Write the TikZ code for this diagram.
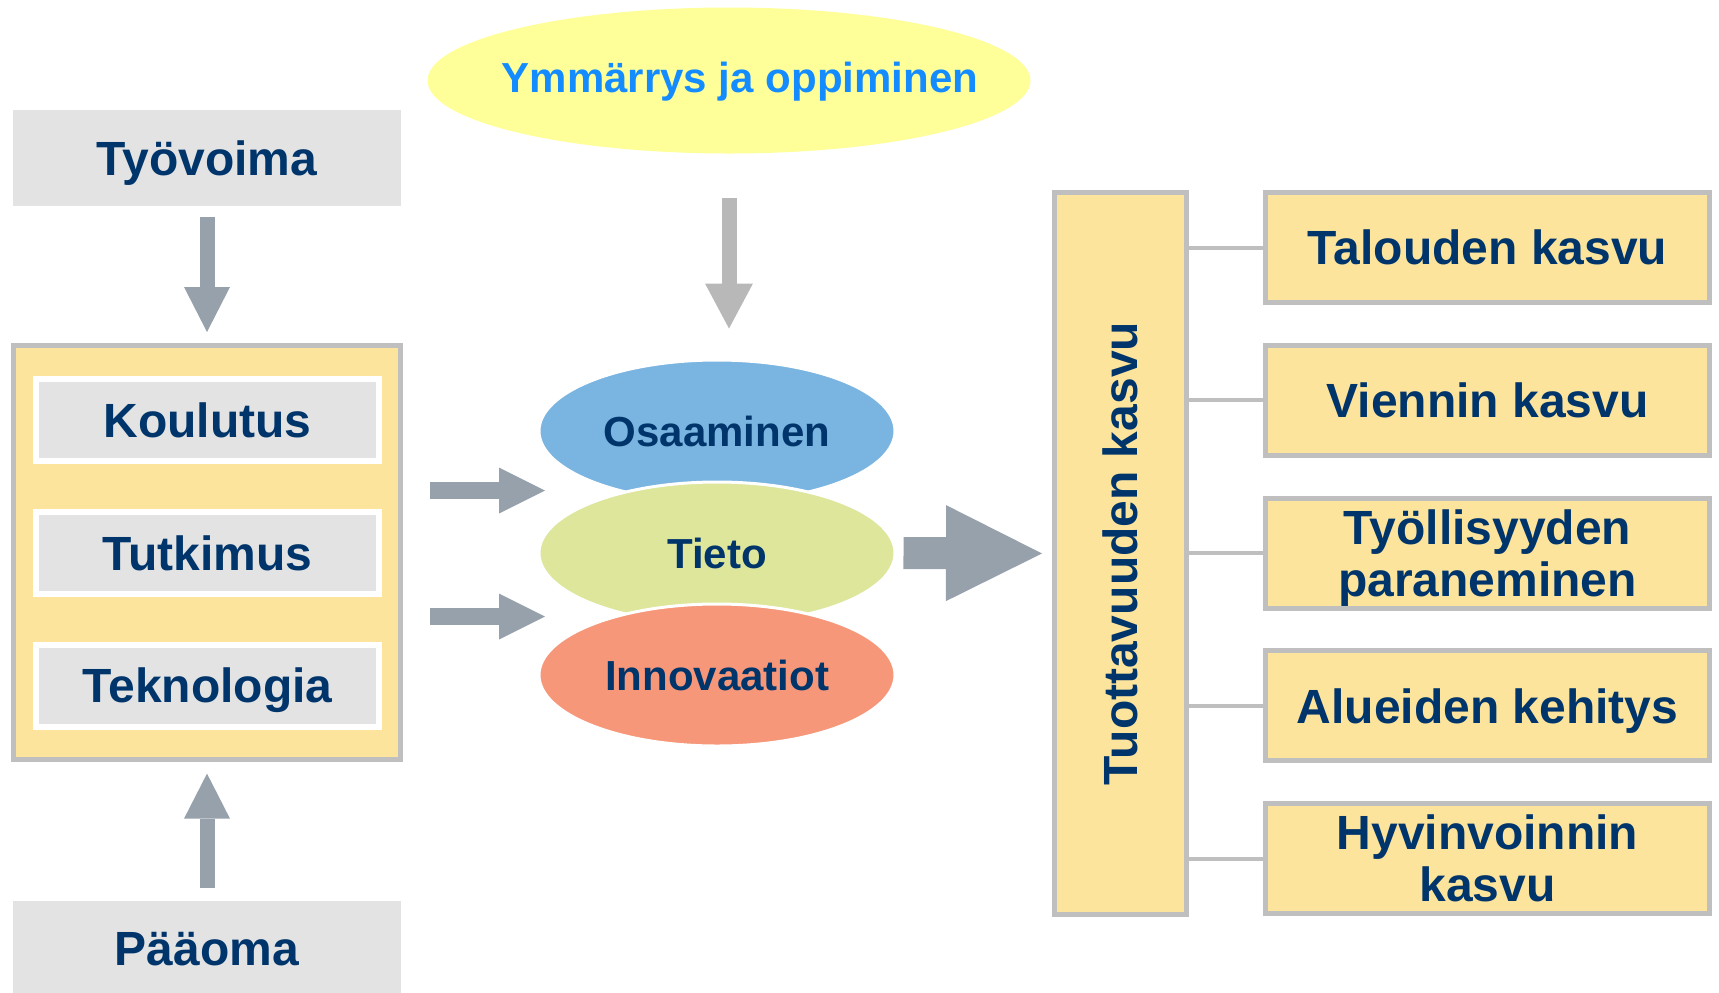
\documentclass[tikz,border=0pt]{standalone}
\usepackage{fontspec}
\setmainfont{Liberation Sans}
\usetikzlibrary{arrows.meta,calc,shapes.geometric}
\definecolor{navy}{RGB}{0,53,107}
\definecolor{boxgray}{RGB}{227,227,227}
\definecolor{ybox}{RGB}{253,228,156}
\definecolor{bordergray}{RGB}{191,191,191}
\definecolor{arrowgray}{RGB}{151,161,171}
\definecolor{lightarrow}{RGB}{184,184,184}
\definecolor{yell}{RGB}{255,255,153}
\definecolor{oblue}{RGB}{122,180,224}
\definecolor{ogreen}{RGB}{221,230,155}
\definecolor{osalmon}{RGB}{246,151,122}
\definecolor{ymmblue}{RGB}{20,140,255}
\begin{document}
\begin{tikzpicture}[x=0.5pt,y=-0.5pt,
  lbl/.style={font=\fontsize{24}{26}\selectfont\bfseries, text=navy, align=center, inner sep=0pt, text depth=0pt},
  graybox/.style={lbl, fill=boxgray, minimum width=194pt, minimum height=48pt},
  innerbox/.style={lbl, fill=boxgray, draw=white, line width=3pt, minimum width=171.5pt, minimum height=41pt},
  ybx/.style={lbl, fill=ybox, draw=bordergray, line width=2.5pt},
  oval/.style={ellipse, draw=white, line width=1.5pt, minimum width=178pt, minimum height=71pt, inner sep=0pt,
    font=\fontsize{21}{23}\selectfont\bfseries, text=navy},
  conn/.style={draw=bordergray, line width=2pt},
  barrow/.style={draw=arrowgray, line width=7.5pt, -{Triangle[length=22.5pt,width=23pt,line width=0pt]}},
  sarrow/.style={draw=arrowgray, line width=8.5pt, -{Triangle[length=23pt,width=23pt,line width=0pt]}},
  bigarrow/.style={draw=arrowgray, line width=16pt, -{Triangle[length=48pt,width=48pt,line width=0pt]}},
  lightarrowst/.style={draw=lightarrow, line width=7.5pt, -{Triangle[length=22.5pt,width=24pt,line width=0pt]}}
]
\useasboundingbox (0,0) rectangle (1719,992);
\clip (0,0) rectangle (1719,992);

% left column
\node[graybox] (ty) at (207,158) {Työvoima};
\node[ybx, minimum width=193.5pt, minimum height=207pt] (lb) at (207,552.5) {};
\node[innerbox] (ko) at (207.5,420) {Koulutus};
\node[innerbox] (tu) at (207.5,553) {Tutkimus};
\node[innerbox] (te) at (207.5,685.5) {Teknologia};
\node[graybox] (pa) at (207,949) {Pääoma};

\draw[barrow, shorten <=5.5pt, shorten >=5.5pt] (ty.south) -- (lb.north);
\draw[barrow, shorten <=6.5pt, shorten >=5.8pt] (pa.north) -- (lb.south);

% middle
\node[ellipse, fill=yell, minimum width=301.5pt, minimum height=73pt, inner sep=0pt] (ym) at (729,80.5) {};
\node[font=\fontsize{21}{23}\selectfont\bfseries, text=ymmblue, inner sep=0pt, text depth=0pt] (ymt) at (740,77) {Ymmärrys ja oppiminen};

\node[oval, fill=oblue] (os) at (717,431) {Osaaminen};
\node[oval, fill=ogreen] (ti) at (717,553) {Tieto};
\node[oval, fill=osalmon] (in) at (717,675) {Innovaatiot};

\draw[lightarrowst, shorten <=22pt, shorten >=15pt] (ym.south) -- (ym.south |- os.north);

\coordinate (a1) at (545,490.5);
\coordinate (a2) at (545,616.5);
\draw[sarrow, shorten <=13.5pt] (lb.east |- a1) -- (a1);
\draw[sarrow, shorten <=13.5pt] (lb.east |- a2) -- (a2);

% right
\node[ybx, minimum width=66pt, minimum height=361pt] (tb) at (1120.5,553.5) {\rotatebox{90}{Tuottavuuden kasvu}};
\draw[bigarrow, shorten <=3.5pt, shorten >=5pt] (ti.east) -- (tb.west);

\node[ybx, minimum width=222pt, minimum height=55pt] (r1) at (1487.5,247.5) {Talouden kasvu};
\node[ybx, minimum width=222pt, minimum height=55pt] (r2) at (1487.5,400.25) {Viennin kasvu};
\node[ybx, minimum width=222pt, minimum height=55pt] (r3) at (1487.5,553) {Työllisyyden\\paraneminen};
\node[ybx, minimum width=222pt, minimum height=55pt] (r4) at (1487.5,705.75) {Alueiden kehitys};
\node[ybx, minimum width=222pt, minimum height=55pt] (r5) at (1487.5,858.5) {Hyvinvoinnin\\kasvu};

\foreach \r in {r1,r2,r3,r4,r5}{
  \draw[conn] (\r.west -| tb.east) -- (\r.west);
}
\end{tikzpicture}
\end{document}
